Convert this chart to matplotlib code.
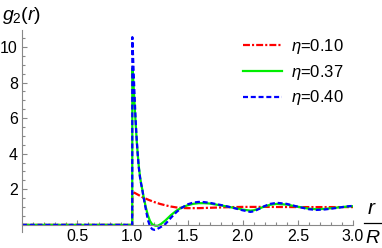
import matplotlib
matplotlib.use('Agg')
import matplotlib.pyplot as plt
from matplotlib.lines import Line2D
from matplotlib.ticker import MultipleLocator, FixedLocator

plt.rcParams['font.family'] = ['Liberation Sans', 'DejaVu Sans']
plt.rcParams['mathtext.fontset'] = 'custom'
plt.rcParams['mathtext.rm'] = 'Liberation Sans'
plt.rcParams['mathtext.it'] = 'Liberation Sans:italic'
plt.rcParams['lines.scale_dashes'] = False

# g2(r) curves
r_red = [0, 0.999, 1.0, 1.05, 1.1, 1.15, 1.2, 1.25, 1.3, 1.35, 1.4, 1.45, 1.5,
         1.6, 1.7, 1.8, 1.9, 2.0, 2.2, 2.5, 2.8, 3.0]
g_red = [0, 0, 1.87, 1.7, 1.53, 1.4, 1.28, 1.18, 1.1, 1.03, 0.98, 0.95, 0.94,
         0.94, 0.96, 0.98, 1.0, 1.01, 1.01, 1.0, 1.0, 1.0]

r_grn = [0, 0.999, 1.0, 1.01, 1.02, 1.03, 1.04, 1.05, 1.06, 1.07, 1.08, 1.09, 1.1,
         1.12, 1.14, 1.16, 1.18, 1.21, 1.23, 1.26, 1.3, 1.35, 1.4, 1.45, 1.5,
         1.55, 1.6, 1.65, 1.7, 1.8, 1.9, 2.0, 2.07, 2.1, 2.15, 2.2, 2.25, 2.31,
         2.4, 2.5, 2.6, 2.67, 2.75, 2.85, 2.95, 3.0]
g_grn = [0, 0, 8.8, 8.0, 6.8, 5.7, 4.7, 3.9, 3.2, 2.7, 2.3, 2.0, 1.65,
         1.05, 0.55, 0.22, 0.03, -0.05, -0.05, 0.05, 0.25, 0.55, 0.8, 0.98, 1.1,
         1.18, 1.22, 1.22, 1.2, 1.1, 0.98, 0.86, 0.8, 0.82, 0.92, 1.04, 1.13, 1.18,
         1.14, 1.02, 0.91, 0.88, 0.9, 0.97, 1.03, 1.05]

r_blu = [0, 0.999, 1.0, 1.01, 1.02, 1.03, 1.04, 1.05, 1.06, 1.07, 1.08, 1.09, 1.1,
         1.12, 1.14, 1.16, 1.18, 1.2, 1.22, 1.25, 1.3, 1.35, 1.4, 1.45, 1.5,
         1.55, 1.6, 1.65, 1.7, 1.8, 1.9, 2.0, 2.07, 2.1, 2.15, 2.2, 2.25, 2.31,
         2.4, 2.5, 2.6, 2.67, 2.75, 2.85, 2.95, 3.0]
g_blu = [0, 0, 10.55, 8.9, 7.3, 5.9, 4.75, 3.85, 3.15, 2.65, 2.3, 2.0, 1.6,
         0.95, 0.3, -0.08, -0.24, -0.28, -0.25, -0.15, 0.05, 0.4, 0.72, 0.97, 1.15,
         1.25, 1.29, 1.28, 1.24, 1.12, 0.98, 0.82, 0.73, 0.76, 0.9, 1.06, 1.18, 1.24,
         1.18, 1.02, 0.88, 0.84, 0.87, 0.95, 1.04, 1.07]

labels = [r'$\eta$=0.10', r'$\eta$=0.37', r'$\eta$=0.40']

W, H = 382, 248
fig = plt.figure(figsize=(W / 100, H / 100), dpi=100)
ax = fig.add_axes([22 / W, 16 / H, (353 - 22) / W, (232 - 30) / H])

lw = 1.6
ax.plot(r_red, g_red, color='#ff0000', lw=lw, dashes=(5, 1.5, 1.5, 1.5), label=labels[0])
ax.plot(r_grn, g_grn, color='#00ee00', lw=lw, label=labels[1])
ax.plot(r_blu, g_blu, color='#0000ff', lw=lw, dashes=(3.6, 2.0), label=labels[2])

ax.set_xlim(0, 3.0)
ax.set_ylim(-0.4, 10.95)

for s in ['top', 'right']:
    ax.spines[s].set_visible(False)
ax.spines['bottom'].set_position(('data', 0))
for s in ['left', 'bottom']:
    ax.spines[s].set_color('#888888')
    ax.spines[s].set_linewidth(0.8)

ax.xaxis.set_major_locator(FixedLocator([0.5, 1.0, 1.5, 2.0, 2.5, 3.0]))
ax.xaxis.set_minor_locator(MultipleLocator(0.1))
ax.yaxis.set_major_locator(FixedLocator([2, 4, 6, 8, 10]))
ax.yaxis.set_minor_locator(MultipleLocator(0.5))
ax.xaxis.set_major_formatter(plt.FuncFormatter(lambda v, p: f'{v:.1f}'))
ax.tick_params(which='both', direction='in', color='#888888', width=0.8,
               labelsize=11.5, pad=3)
ax.tick_params(which='major', length=3.5)
ax.tick_params(which='minor', length=2)

leg = ax.legend(loc='upper left', bbox_to_anchor=(243 / W, 1 - 37 / H),
                bbox_transform=fig.transFigure, frameon=False, fontsize=12,
                handlelength=2.34, handletextpad=0.54, labelspacing=0.4,
                borderpad=0, borderaxespad=0)

fig.text(2 / W, 1 - 20 / H, r'$g_2(r)$', fontsize=14)

# r / R at the end of the x axis
fig.text(371 / W, 1 - 214 / H, 'r', fontsize=15, style='italic', ha='center')
fig.add_artist(Line2D([364 / W, 381 / W], [1 - 223 / H, 1 - 223 / H],
                      color='black', lw=0.9, transform=fig.transFigure))
fig.text(372 / W, 1 / H, 'R', fontsize=14, style='italic', ha='center', va='bottom')

fig.savefig('out.png', dpi=100)
